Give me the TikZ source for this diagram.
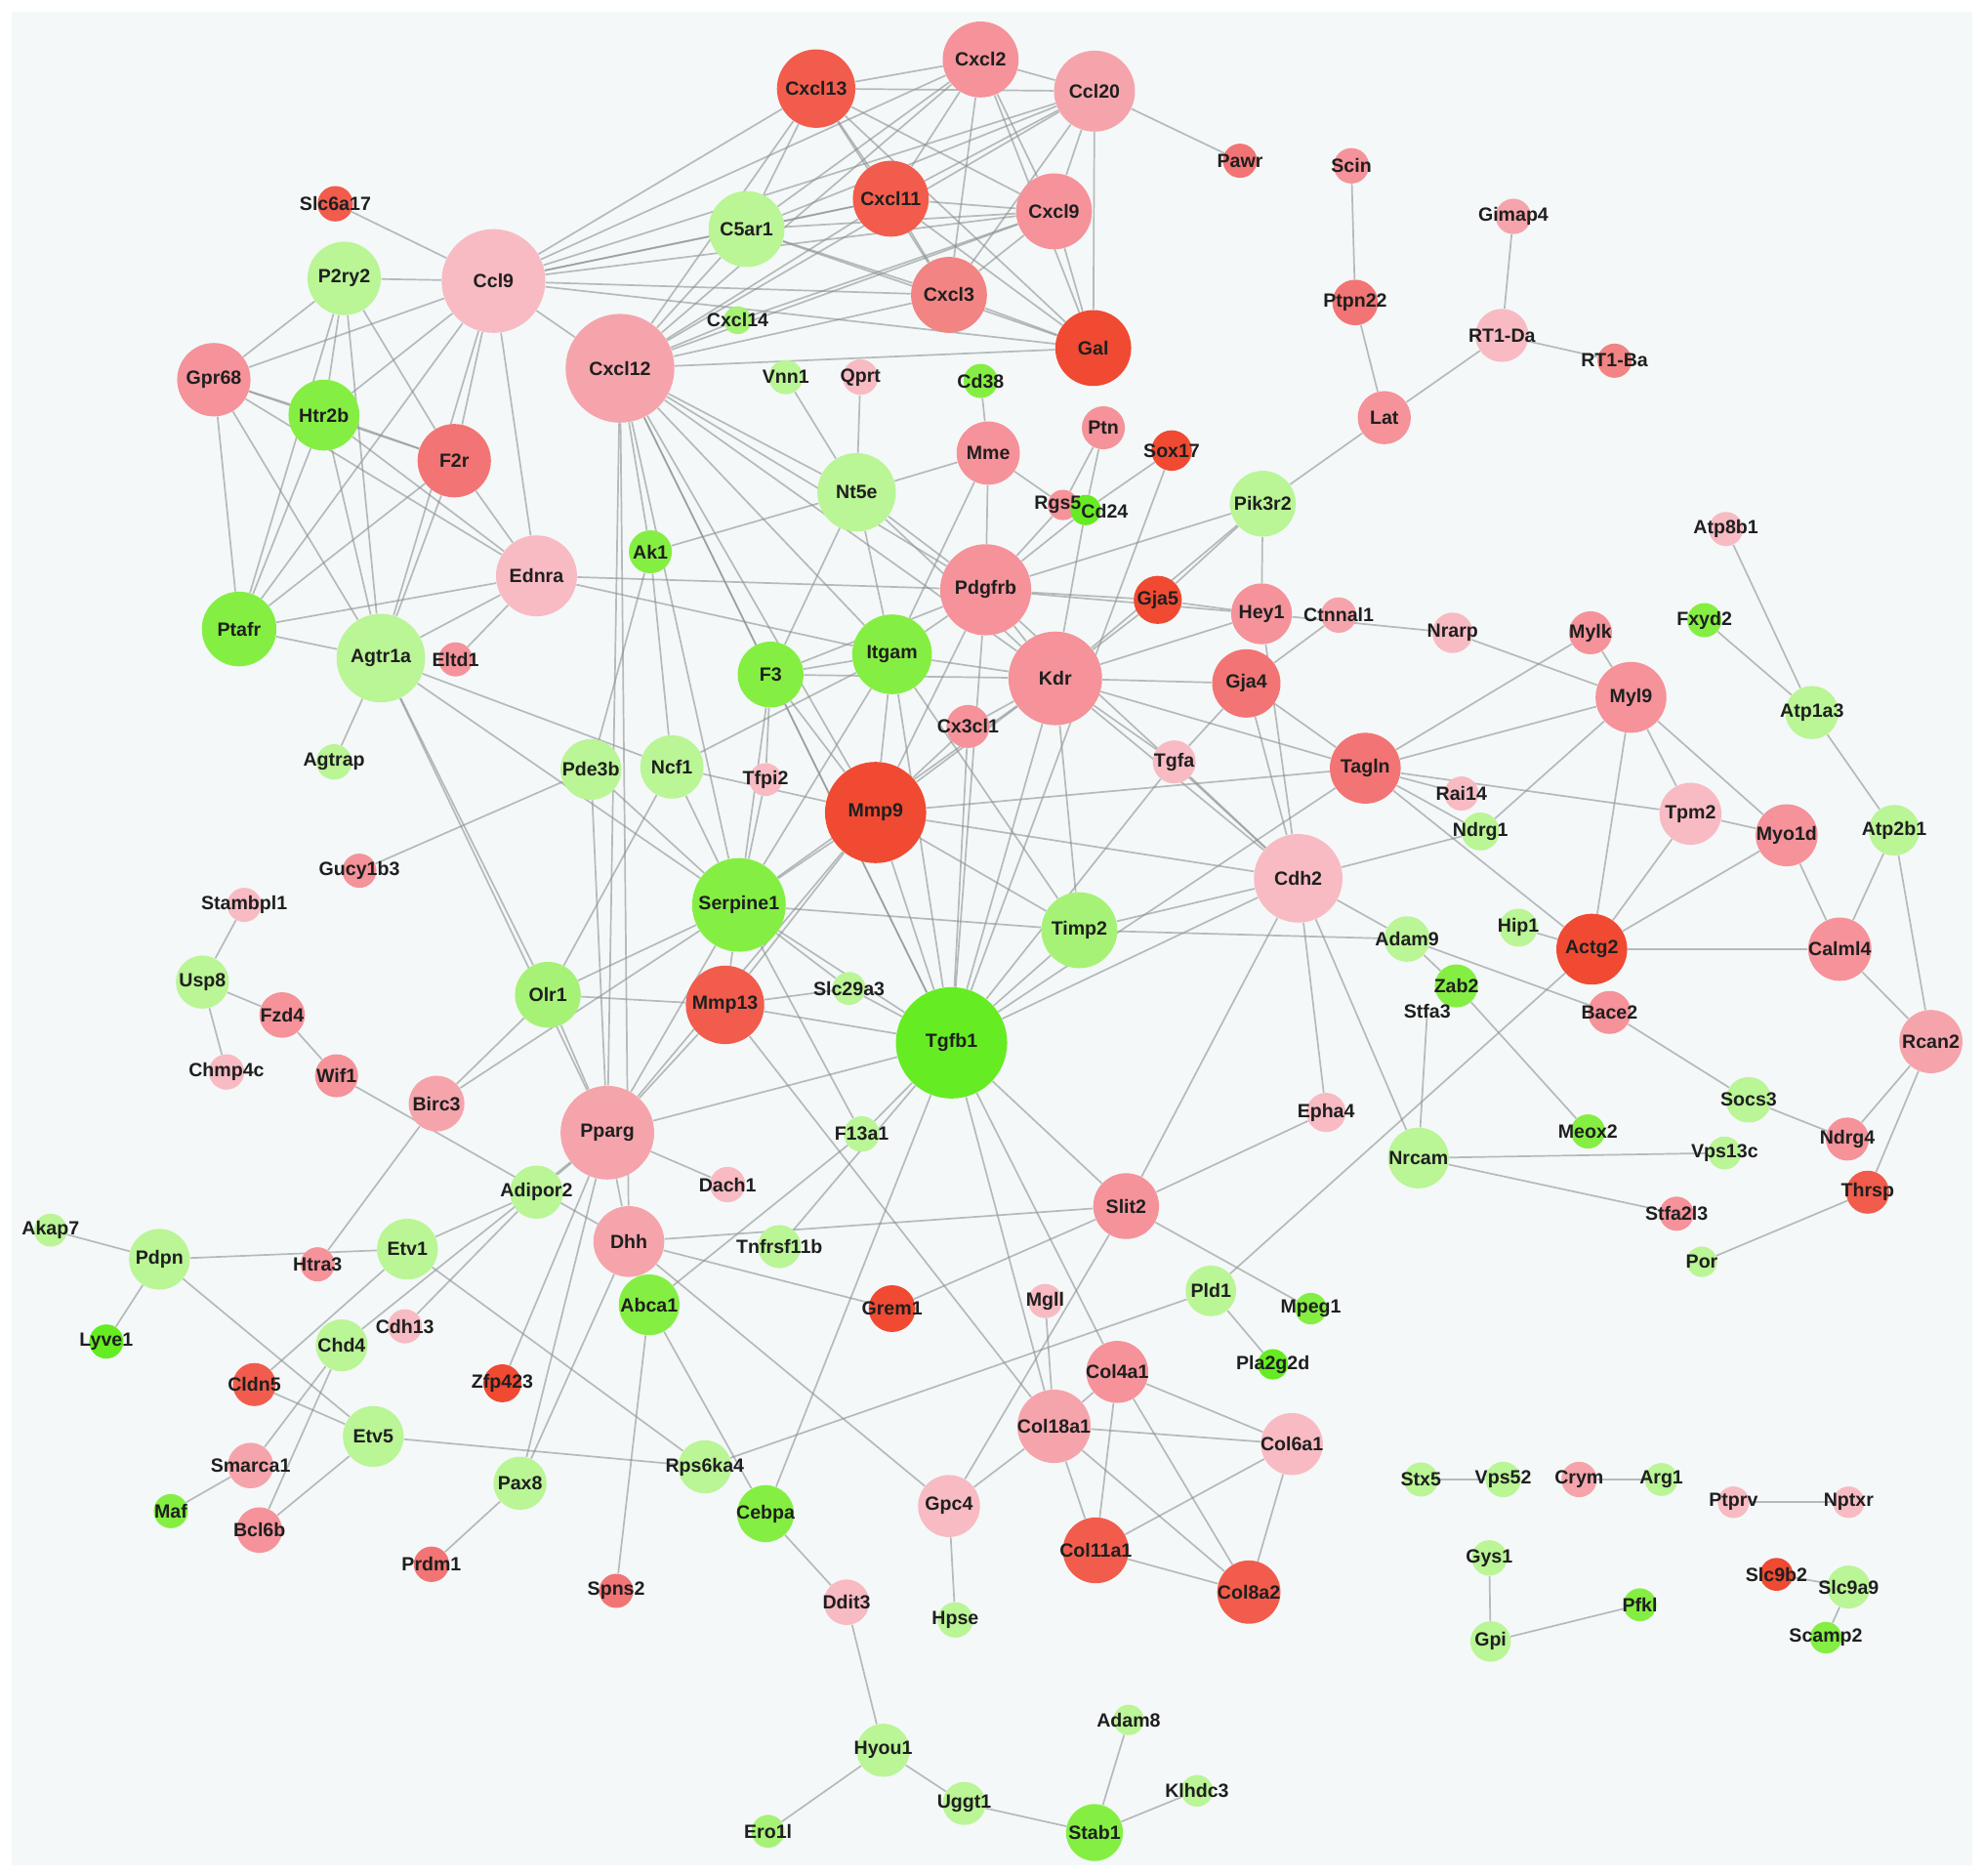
\documentclass[tikz,border=0pt]{standalone}
\usepackage{fontspec}
\setmainfont{Liberation Sans}
\pgfdeclarelayer{bgl}
\pgfdeclarelayer{edges}
\pgfsetlayers{bgl,edges,main}
\definecolor{R1}{HTML}{F04A32}
\definecolor{R2}{HTML}{F25C4C}
\definecolor{R3}{HTML}{F37474}
\definecolor{P0}{HTML}{F28484}
\definecolor{P1}{HTML}{F5929A}
\definecolor{P2}{HTML}{F6A4AC}
\definecolor{P3}{HTML}{F8BBC3}
\definecolor{G1}{HTML}{66EC22}
\definecolor{G2}{HTML}{84EF42}
\definecolor{G3}{HTML}{A6F276}
\definecolor{G4}{HTML}{BAF596}
\definecolor{bgc}{HTML}{F4F8F8}
\definecolor{edc}{HTML}{8C9191}
\newcommand\ND[5]{\node[nd,minimum size=#4*0.04cm,fill=#5] (#1) at (#2,#3) {};}
\begin{document}
\begin{tikzpicture}[x=0.02cm,y=-0.02cm,
  nd/.style={circle,inner sep=0pt,draw=none},
  lb/.style={font=\bfseries\fontsize{8.6}{9}\selectfont,text={black!88},inner sep=0pt},
  ed/.style={draw=edc,draw opacity=0.6,line width=0.75pt}]
\useasboundingbox (0,0) rectangle (1568,1482);
\begin{pgfonlayer}{bgl}
\fill[white] (0,0) rectangle (1568,1482);
\fill[bgc] (9,9) rectangle (1559,1474);
\end{pgfonlayer}
\ND{Cxcl13}{645}{70}{31}{R2}
\ND{Cxcl2}{775}{47}{30}{P1}
\ND{Ccl20}{865}{72}{32}{P2}
\ND{Pawr}{980}{127}{13.5}{R3}
\ND{Cxcl11}{704}{157}{30}{R2}
\ND{Cxcl9}{833}{167}{30}{P1}
\ND{C5ar1}{590}{181}{30}{G4}
\ND{Cxcl3}{750}{233}{30}{P0}
\ND{Gal}{864}{275}{30}{R1}
\ND{Cxcl14}{583}{253}{11}{G3}
\ND{Ccl9}{390}{222}{41}{P3}
\ND{Slc6a17}{265}{161}{14}{R2}
\ND{P2ry2}{272}{220}{29}{G4}
\ND{Gpr68}{169}{300}{29}{P1}
\ND{Htr2b}{256}{328}{28}{G2}
\ND{F2r}{359}{364}{29}{R3}
\ND{Cxcl12}{490}{291}{43}{P2}
\ND{Vnn1}{621}{298}{13.5}{G4}
\ND{Qprt}{680}{298}{14}{P3}
\ND{Cd38}{775}{301}{13.5}{G2}
\ND{Scin}{1068}{131}{14}{P1}
\ND{Gimap4}{1196}{171}{14}{P2}
\ND{Ptpn22}{1071}{239}{18}{R3}
\ND{RTDa}{1187}{265}{21}{P3}
\ND{RTBa}{1276}{285}{13.5}{P0}
\ND{Lat}{1094}{330}{21}{P1}
\ND{Ptn}{872}{338}{17}{P1}
\ND{Mme}{781}{358}{25}{P1}
\ND{Sox17}{926}{356}{16}{R1}
\ND{Nt5e}{677}{389}{31}{G4}
\ND{Rgs5}{840}{399}{12}{P1}
\ND{Cd24}{858}{403}{12}{G1}
\ND{Pik3r2}{998}{398}{26}{G4}
\ND{Ednra}{424}{455}{32}{P3}
\ND{Ak1}{514}{436}{17}{G2}
\ND{Ptafr}{189}{497}{29.5}{G2}
\ND{Agtr1a}{301}{520}{35}{G4}
\ND{Eltd1}{360}{521}{13.5}{P1}
\ND{Pdgfrb}{779}{466}{36}{P1}
\ND{Gja5}{915}{474}{19}{R1}
\ND{Hey1}{997}{485}{24}{P1}
\ND{Ctnnal1}{1058}{486}{14}{P2}
\ND{Nrarp}{1148}{500}{16}{P3}
\ND{Mylk}{1257}{500}{17}{P1}
\ND{Fxyd2}{1347}{490}{13.5}{G2}
\ND{Atp8b1}{1364}{418}{13.5}{P3}
\ND{Itgam}{705}{517}{31.5}{G2}
\ND{F3}{609}{533}{26}{G2}
\ND{Kdr}{834}{536}{37}{P1}
\ND{Gja4}{985}{540}{27}{R3}
\ND{Myl9}{1289}{551}{28}{P1}
\ND{Atp1a3}{1432}{563}{21}{G4}
\ND{Agtrap}{264}{602}{14}{G4}
\ND{Pde3b}{467}{608}{24}{G4}
\ND{Ncf1}{531}{606}{25}{G4}
\ND{Tfpi2}{605}{616}{13}{P3}
\ND{Cx3cl1}{765}{574}{17}{P1}
\ND{Tgfa}{928}{602}{17}{P3}
\ND{Tagln}{1079}{607}{28}{R3}
\ND{Rai14}{1155}{627}{13.5}{P3}
\ND{Tpm2}{1336}{643}{24.5}{P3}
\ND{Myo1d}{1412}{660}{24.5}{P1}
\ND{Atp2b1}{1497}{656}{20}{G4}
\ND{Mmp9}{692}{642}{40}{R1}
\ND{Gucy1b3}{284}{688}{13.5}{P1}
\ND{Ndrg1}{1170}{657}{15}{G4}
\ND{Cdh2}{1026}{694}{35}{P3}
\ND{Stambpl1}{193}{715}{13.5}{P3}
\ND{Serpine1}{584}{715}{37}{G2}
\ND{Timp2}{853}{735}{30}{G3}
\ND{Hip1}{1200}{733}{15}{G4}
\ND{Adam9}{1112}{742}{18}{G4}
\ND{Actg2}{1258}{750}{28}{R1}
\ND{Calml4}{1454}{750}{25}{P1}
\ND{Usp8}{160}{776}{21}{G4}
\ND{Olr1}{433}{786}{26}{G3}
\ND{Mmp13}{573}{794}{31}{R2}
\ND{Slc29a3}{671}{781}{13}{G4}
\ND{Tgfb1}{752}{824}{44}{G1}
\ND{Zab2}{1151}{779}{17}{G2}
\node[inner sep=0pt,minimum size=2pt] (Stfa3) at (1128,799) {};
\ND{Bace2}{1272}{800}{17}{P1}
\ND{Fzd4}{223}{802}{18}{P1}
\ND{Rcan2}{1526}{823}{25}{P2}
\ND{Chmp4c}{179}{847}{14}{P3}
\ND{Wif1}{266}{850}{17}{P1}
\ND{Birc3}{345}{872}{22}{P2}
\ND{Pparg}{480}{895}{37}{P2}
\ND{Epha4}{1048}{879}{15.5}{P3}
\ND{Socs3}{1382}{869}{18}{G4}
\ND{F13a1}{681}{896}{14}{G4}
\ND{Meox2}{1255}{894}{13.5}{G2}
\ND{Ndrg4}{1460}{900}{17}{P1}
\ND{Nrcam}{1121}{915}{24}{G4}
\ND{Vps13c}{1363}{911}{13}{G4}
\ND{Dach1}{575}{936}{14}{P3}
\ND{Adipor2}{424}{942}{21}{G4}
\ND{Slit2}{890}{953}{26}{P1}
\ND{Thrsp}{1476}{942}{17}{R2}
\ND{Stfa2l3}{1325}{959}{13.5}{P1}
\ND{Akap7}{40}{972}{13}{G4}
\ND{Pdpn}{126}{995}{24}{G4}
\ND{Etv1}{322}{987}{24}{G4}
\ND{Htra3}{251}{999}{13.5}{P1}
\ND{Dhh}{497}{981}{28}{P2}
\ND{Tnfrsf11b}{616}{985}{17}{G4}
\ND{Por}{1345}{997}{12}{G4}
\ND{Pld1}{957}{1020}{20}{G4}
\ND{Mpeg1}{1036}{1034}{12.5}{G2}
\ND{Abca1}{513}{1031}{24}{G2}
\ND{Grem1}{705}{1034}{18.5}{R1}
\ND{Mgll}{826}{1028}{13.5}{P3}
\ND{Cdh13}{320}{1048}{13.5}{P3}
\ND{Chd4}{270}{1063}{20.5}{G4}
\ND{Lyve1}{84}{1060}{13.5}{G1}
\ND{Pla2g2d}{1006}{1078}{12}{G1}
\ND{Col4a1}{883}{1084}{24.5}{P1}
\ND{Cldn5}{201}{1094}{17}{R2}
\ND{Zfp423}{397}{1093}{15}{R1}
\ND{Col18a1}{833}{1127}{29}{P2}
\ND{Col6a1}{1021}{1141}{24.5}{P3}
\ND{Etv5}{295}{1135}{24}{G4}
\ND{Smarca1}{198}{1158}{18}{P2}
\ND{Rps6ka4}{557}{1159}{21}{G4}
\ND{Pax8}{411}{1172}{21}{G4}
\ND{Stx5}{1123}{1169}{13.5}{G4}
\ND{Vps52}{1188}{1169}{14}{G4}
\ND{Crym}{1248}{1169}{14}{P2}
\ND{Arg1}{1313}{1169}{13}{G4}
\ND{Ptprv}{1370}{1187}{12.5}{P3}
\ND{Nptxr}{1461}{1187}{12.5}{P3}
\ND{Maf}{135}{1194}{13.5}{G2}
\ND{Cebpa}{605}{1196}{22.5}{G2}
\ND{Gpc4}{750}{1190}{24.5}{P3}
\ND{Bcl6b}{205}{1209}{18}{P1}
\ND{Col11a1}{866}{1225}{26}{R2}
\ND{Col8a2}{987}{1258}{25}{R2}
\ND{Gys1}{1177}{1231}{14}{G4}
\ND{Prdm1}{341}{1236}{14}{R3}
\ND{Spns2}{487}{1257}{13.5}{R3}
\ND{Slc9b2}{1404}{1244}{13}{R1}
\ND{Slc9a9}{1461}{1254}{17}{G4}
\ND{Ddit3}{669}{1266}{18}{P3}
\ND{Pfkl}{1296}{1268}{13}{G2}
\ND{Hpse}{755}{1280}{14}{G4}
\ND{Gpi}{1178}{1297}{16}{G4}
\ND{Scamp2}{1443}{1294}{12.5}{G2}
\ND{Adam8}{892}{1359}{12}{G4}
\ND{Hyou1}{698}{1383}{21}{G4}
\ND{Klhdc3}{946}{1415}{12.5}{G4}
\ND{Uggt1}{762}{1425}{17}{G4}
\ND{Stab1}{865}{1448}{22.5}{G2}
\ND{Ero1l}{607}{1447}{13}{G3}
\begin{pgfonlayer}{edges}
\foreach \a/\b in {Cxcl13/Cxcl2, Cxcl13/Ccl20, Cxcl13/Cxcl11, Cxcl13/Cxcl9, Cxcl13/Cxcl3, Cxcl13/Gal, Cxcl13/C5ar1, Cxcl13/Ccl9, Cxcl13/Cxcl12,
Cxcl2/Ccl20, Cxcl2/Cxcl11, Cxcl2/Cxcl9, Cxcl2/Cxcl3, Cxcl2/Gal, Cxcl2/C5ar1, Cxcl2/Ccl9, Cxcl2/Cxcl12,
Ccl20/Cxcl11, Ccl20/Cxcl9, Ccl20/Cxcl3, Ccl20/Gal, Ccl20/C5ar1, Ccl20/Ccl9, Ccl20/Cxcl12, Ccl20/Pawr,
Cxcl11/Cxcl9, Cxcl11/Cxcl3, Cxcl11/Gal, Cxcl11/C5ar1, Cxcl11/Ccl9, Cxcl11/Cxcl12,
Cxcl9/Cxcl3, Cxcl9/Gal, Cxcl9/C5ar1, Cxcl9/Ccl9, Cxcl9/Cxcl12,
Cxcl3/Gal, Cxcl3/C5ar1, Cxcl3/Ccl9, Cxcl3/Cxcl12,
Gal/Ccl9, Gal/Cxcl12, Gal/C5ar1, C5ar1/Ccl9, C5ar1/Cxcl12,
Cxcl14/Cxcl12, Cxcl14/Cxcl9,
Ccl9/Slc6a17, Ccl9/P2ry2, Ccl9/Gpr68, Ccl9/Htr2b, Ccl9/F2r, Ccl9/Ptafr, Ccl9/Agtr1a, Ccl9/Ednra, Ccl9/Cxcl12,
P2ry2/Gpr68, P2ry2/Htr2b, P2ry2/Ptafr, P2ry2/Agtr1a, P2ry2/F2r,
Gpr68/Htr2b, Gpr68/F2r, Gpr68/Ptafr, Gpr68/Agtr1a, Gpr68/Ednra,
Htr2b/F2r, Htr2b/Ptafr, Htr2b/Agtr1a, Htr2b/Ednra,
F2r/Ptafr, F2r/Agtr1a, F2r/Ednra, Ptafr/Agtr1a, Ptafr/Ednra,
Agtr1a/Ednra, Agtr1a/Agtrap, Agtr1a/Olr1, Agtr1a/Pparg, Agtr1a/Ncf1, Agtr1a/Serpine1,
Eltd1/Ednra, Ednra/Pdgfrb, Ednra/Itgam,
Cxcl12/Nt5e, Cxcl12/Pdgfrb, Cxcl12/Kdr, Cxcl12/Itgam, Cxcl12/Mmp9, Cxcl12/Tgfb1, Cxcl12/Ak1, Cxcl12/Pparg, Cxcl12/Dhh, Cxcl12/Serpine1, Cxcl12/F3,
Nt5e/Vnn1, Nt5e/Qprt, Nt5e/Mme, Nt5e/Ak1, Nt5e/Pdgfrb, Nt5e/Kdr, Nt5e/Itgam, Nt5e/F3,
Mme/Cd38, Mme/Pdgfrb, Mme/Rgs5, Mme/Itgam,
Ptn/Rgs5, Ptn/Cd24, Sox17/Cd24, Sox17/Tgfb1, Rgs5/Pdgfrb, Cd24/Pdgfrb, Cd24/Kdr,
Pik3r2/Lat, Pik3r2/Hey1, Pik3r2/Pdgfrb, Pik3r2/Kdr, Pik3r2/Gja5,
Lat/Ptpn22, Ptpn22/Scin, Lat/RTDa, RTDa/Gimap4, RTDa/RTBa,
Pdgfrb/Gja5, Pdgfrb/Hey1, Pdgfrb/Kdr, Pdgfrb/Itgam, Pdgfrb/F3, Pdgfrb/Mmp9, Pdgfrb/Tgfb1, Pdgfrb/Cdh2,
Kdr/Itgam, Kdr/Cx3cl1, Kdr/Mmp9, Kdr/Tgfb1, Kdr/Timp2, Kdr/Cdh2, Kdr/Tgfa, Kdr/Gja4, Kdr/Gja5, Kdr/Hey1, Kdr/Tagln, Kdr/Serpine1, Kdr/F3,
Gja5/Hey1, Hey1/Nrarp, Hey1/Cdh2, Gja4/Ctnnal1, Gja4/Tgfa, Gja4/Tagln, Gja4/Cdh2,
Itgam/F3, Itgam/Mmp9, Itgam/Tgfb1, Itgam/Serpine1, Itgam/Ncf1, Itgam/Timp2,
F3/Mmp9, F3/Serpine1, F3/Tfpi2, F3/Tgfb1,
Mmp9/Serpine1, Mmp9/Mmp13, Mmp9/Tgfb1, Mmp9/Cx3cl1, Mmp9/Timp2, Mmp9/Cdh2, Mmp9/Tagln, Mmp9/Pparg, Mmp9/Ncf1,
Cx3cl1/Tgfb1, Tgfa/Tgfb1, Tgfa/Cdh2, Tagln/Tgfb1,
Serpine1/Mmp13, Serpine1/Tgfb1, Serpine1/Timp2, Serpine1/Pparg, Serpine1/Olr1, Serpine1/Ncf1, Serpine1/Pde3b, Serpine1/Birc3, Serpine1/Slc29a3, Serpine1/F13a1, Serpine1/Tfpi2,
Tgfb1/Mmp13, Tgfb1/Slc29a3, Tgfb1/F13a1, Tgfb1/Tnfrsf11b, Tgfb1/Cebpa, Tgfb1/Pparg, Tgfb1/Slit2, Tgfb1/Col18a1, Tgfb1/Col4a1, Tgfb1/Timp2, Tgfb1/Cdh2,
Mmp13/Slc29a3, Mmp13/Pparg, Mmp13/Col18a1, Mmp13/Olr1,
Timp2/Cdh2, Timp2/Adam9,
Pparg/Dhh, Pparg/Olr1, Pparg/Pde3b, Pparg/Zfp423, Pparg/Pax8, Pparg/Adipor2, Pparg/Chd4, Pparg/Dach1,
Olr1/Birc3, Olr1/Ncf1, Pde3b/Gucy1b3, Ak1/Ncf1, Ak1/Pde3b,
Birc3/Htra3, Wif1/Dhh, Fzd4/Wif1, Usp8/Fzd4, Usp8/Stambpl1, Usp8/Chmp4c,
Pdpn/Akap7, Pdpn/Lyve1, Pdpn/Etv1, Pdpn/Etv5,
Etv1/Cldn5, Etv1/Rps6ka4, Adipor2/Cdh13, Adipor2/Etv1,
Chd4/Smarca1, Chd4/Bcl6b, Cldn5/Etv5, Etv5/Bcl6b, Etv5/Rps6ka4, Smarca1/Maf,
Pax8/Dhh, Pax8/Prdm1, Dhh/Grem1, Dhh/Gpc4, Dhh/Slit2,
Abca1/Spns2, Abca1/Cebpa, Abca1/F13a1,
Grem1/Slit2, Cebpa/Ddit3, Ddit3/Hyou1, Hyou1/Ero1l, Hyou1/Uggt1, Uggt1/Stab1, Stab1/Adam8, Stab1/Klhdc3,
Rps6ka4/Pld1, Gpc4/Hpse, Gpc4/Col18a1, Slit2/Gpc4,
Mgll/Col18a1, Col4a1/Col18a1, Col4a1/Col6a1, Col4a1/Col11a1, Col4a1/Col8a2, Col18a1/Col6a1, Col18a1/Col11a1, Col18a1/Col8a2, Col6a1/Col11a1, Col6a1/Col8a2, Col11a1/Col8a2,
Pld1/Pla2g2d, Pld1/Actg2, Slit2/Mpeg1, Slit2/Cdh2, Slit2/Epha4,
Cdh2/Epha4, Cdh2/Nrcam, Cdh2/Adam9, Cdh2/Ndrg1,
Adam9/Bace2, Adam9/Zab2, Zab2/Meox2, Stfa3/Nrcam, Nrcam/Vps13c, Nrcam/Stfa2l3,
Bace2/Socs3, Socs3/Ndrg4, Ndrg4/Rcan2, Rcan2/Thrsp, Rcan2/Calml4, Rcan2/Atp2b1, Calml4/Atp2b1, Calml4/Myo1d, Calml4/Actg2,
Actg2/Myl9, Actg2/Tpm2, Actg2/Myo1d, Actg2/Hip1, Actg2/Tagln,
Tpm2/Myl9, Tpm2/Myo1d, Myl9/Mylk, Myl9/Myo1d, Myl9/Nrarp, Myl9/Tagln, Myl9/Ndrg1,
Tagln/Mylk, Tagln/Tpm2, Tagln/Rai14, Tagln/Ndrg1,
Atp1a3/Fxyd2, Atp1a3/Atp8b1, Atp1a3/Atp2b1,
Thrsp/Por, Gys1/Gpi, Gpi/Pfkl, Stx5/Vps52, Crym/Arg1, Ptprv/Nptxr, Slc9b2/Slc9a9, Slc9a9/Scamp2}
  \draw[ed] (\a) -- (\b);
\end{pgfonlayer}
\foreach \n in {Cxcl13,Cxcl2,Ccl20,Pawr,Cxcl11,Cxcl9,C5ar1,Cxcl3,Gal,Cxcl14,Ccl9,Slc6a17,P2ry2,Gpr68,Htr2b,F2r,Cxcl12,Vnn1,Qprt,Cd38,Scin,Gimap4,Ptpn22,Lat,Ptn,Mme,Sox17,Nt5e,Pik3r2,Ednra,Ak1,Ptafr,Agtr1a,Eltd1,Pdgfrb,Gja5,Hey1,Ctnnal1,Nrarp,Mylk,Fxyd2,Atp8b1,Itgam,F3,Kdr,Gja4,Myl9,Atp1a3,Agtrap,Pde3b,Ncf1,Tfpi2,Cx3cl1,Tgfa,Tagln,Rai14,Tpm2,Myo1d,Atp2b1,Mmp9,Gucy1b3,Ndrg1,Cdh2,Stambpl1,Serpine1,Timp2,Hip1,Adam9,Actg2,Calml4,Usp8,Olr1,Mmp13,Slc29a3,Tgfb1,Zab2,Stfa3,Bace2,Fzd4,Rcan2,Chmp4c,Wif1,Birc3,Pparg,Epha4,Socs3,F13a1,Meox2,Ndrg4,Nrcam,Vps13c,Dach1,Adipor2,Slit2,Thrsp,Stfa2l3,Akap7,Pdpn,Etv1,Htra3,Dhh,Tnfrsf11b,Por,Pld1,Mpeg1,Abca1,Grem1,Mgll,Cdh13,Chd4,Lyve1,Pla2g2d,Col4a1,Cldn5,Zfp423,Col18a1,Col6a1,Etv5,Smarca1,Rps6ka4,Pax8,Stx5,Vps52,Crym,Arg1,Ptprv,Nptxr,Maf,Cebpa,Gpc4,Bcl6b,Col11a1,Col8a2,Gys1,Prdm1,Spns2,Slc9b2,Slc9a9,Ddit3,Pfkl,Hpse,Gpi,Scamp2,Adam8,Hyou1,Klhdc3,Uggt1,Stab1,Ero1l}
  \node[lb] at (\n) {\n};
\node[lb] at (873,404) {Cd24};
\node[lb] at (836,399) {Rgs5};
\node[lb] at (RTDa) {RT1-Da};
\node[lb] at (RTBa) {RT1-Ba};
\end{tikzpicture}
\end{document}
